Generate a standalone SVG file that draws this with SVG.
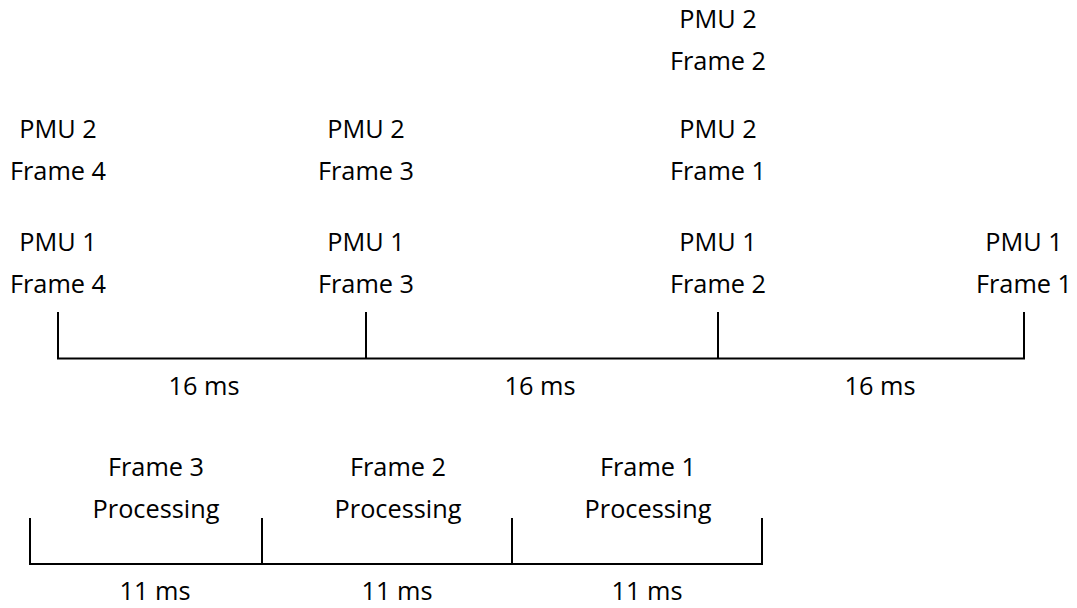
<svg xmlns="http://www.w3.org/2000/svg" width="1077" height="608" viewBox="0 0 1077 608">
<style>
text{font-family:"Open Sans","Noto Sans","Liberation Sans",sans-serif;font-size:25.3px;fill:#000;text-anchor:middle}
.ln{stroke:#000;stroke-width:2;fill:none}
</style>
<rect width="1077" height="608" fill="#fff"/>
<g id="connectors">
<path class="ln" d="M58,312V358.5H1024V312M366,312V358.5M718,312V358.5"/>
<path class="ln" d="M30,518V564H762V518M262,518V564M512,518V564"/>
</g>
<g id="pmu2-f2"><text x="718" y="28">PMU 2</text><text x="718" y="70">Frame 2</text></g>
<g id="pmu2-f4"><text x="58" y="138">PMU 2</text><text x="58" y="180">Frame 4</text></g>
<g id="pmu2-f3"><text x="366" y="138">PMU 2</text><text x="366" y="180">Frame 3</text></g>
<g id="pmu2-f1"><text x="718" y="138">PMU 2</text><text x="718" y="180">Frame 1</text></g>
<g id="pmu1-f4"><text x="58" y="251">PMU 1</text><text x="58" y="293">Frame 4</text></g>
<g id="pmu1-f3"><text x="366" y="251">PMU 1</text><text x="366" y="293">Frame 3</text></g>
<g id="pmu1-f2"><text x="718" y="251">PMU 1</text><text x="718" y="293">Frame 2</text></g>
<g id="pmu1-f1"><text x="1024" y="251">PMU 1</text><text x="1024" y="293">Frame 1</text></g>
<g id="ms16"><text x="204" y="395">16 ms</text><text x="540" y="395">16 ms</text><text x="880" y="395">16 ms</text></g>
<g id="proc3"><text x="156" y="476">Frame 3</text><text x="156" y="518">Processing</text></g>
<g id="proc2"><text x="398" y="476">Frame 2</text><text x="398" y="518">Processing</text></g>
<g id="proc1"><text x="648" y="476">Frame 1</text><text x="648" y="518">Processing</text></g>
<g id="ms11"><text x="155" y="600">11 ms</text><text x="397" y="600">11 ms</text><text x="647" y="600">11 ms</text></g>
</svg>
